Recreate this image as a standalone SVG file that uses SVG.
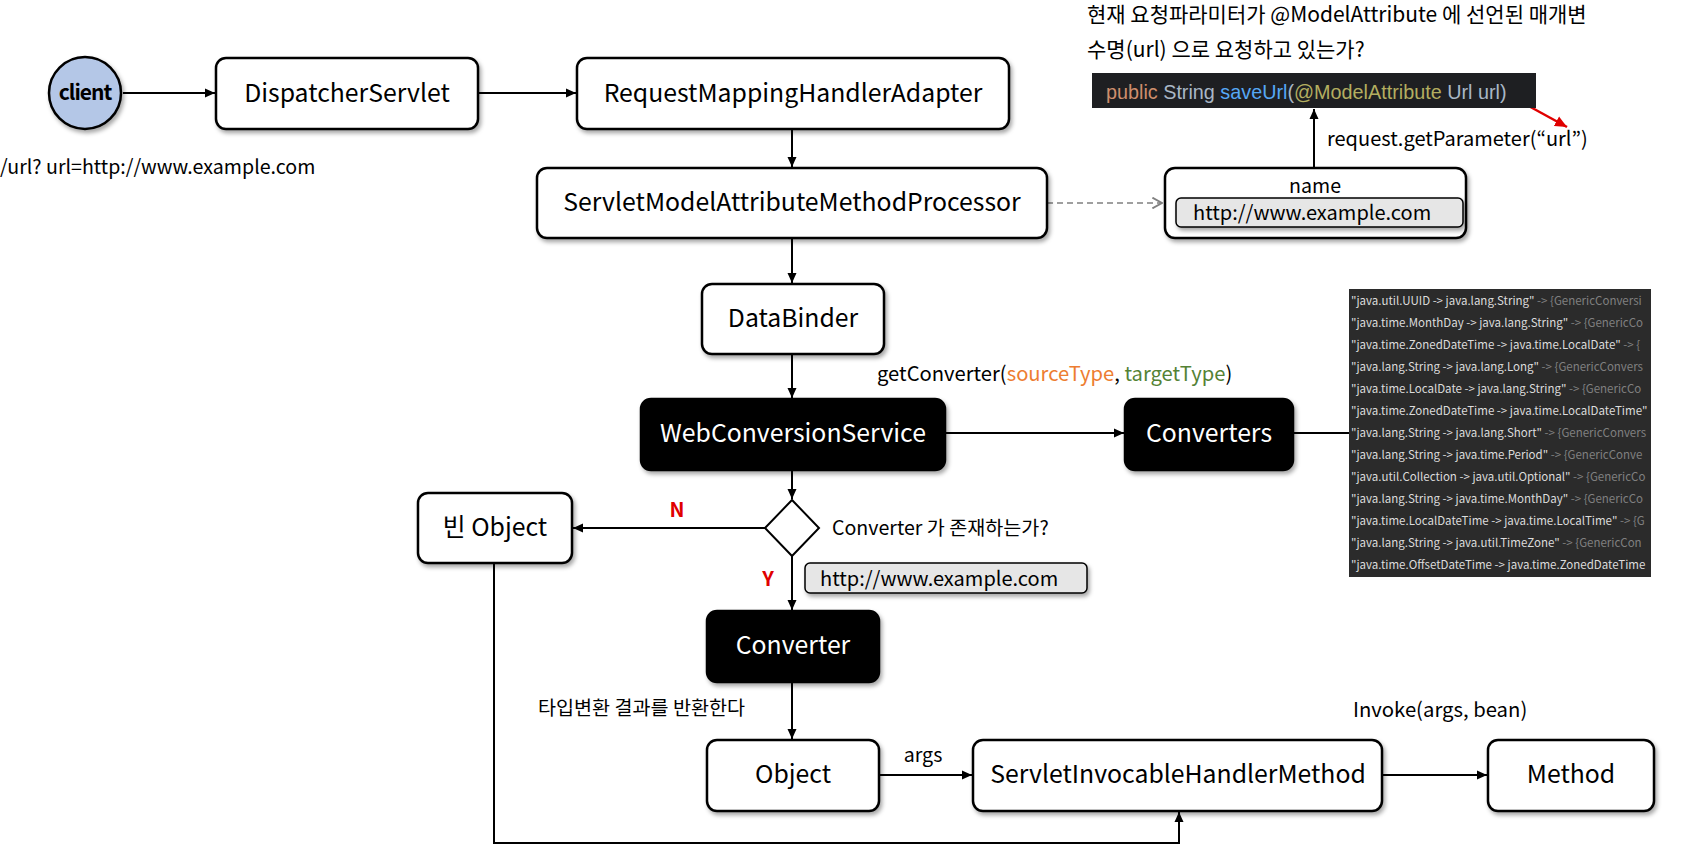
<svg xmlns="http://www.w3.org/2000/svg" width="1681" height="856" viewBox="0 0 1681 856">
<defs>
<style>
.box{fill:#fff;stroke:#000;stroke-width:2.5}
.dark{fill:#000;stroke:#000;stroke-width:2.5}
.lbl{font-family:"Noto Sans CJK KR","Noto Sans",sans-serif;font-size:24.8px;fill:#000;text-anchor:middle;dominant-baseline:central}
.wlbl{fill:#fff}
.note{font-family:"Noto Sans CJK KR","Noto Sans",sans-serif;font-size:19.6px;fill:#000}
.ko{font-size:21px}
.conn{fill:none;stroke:#000;stroke-width:2}
.list{font-family:"Noto Sans CJK KR","Noto Sans",sans-serif;font-size:11.5px;fill:#dcdcdc}
.g{fill:#808080}
</style>
<filter id="sh" x="-10%" y="-10%" width="130%" height="140%">
<feDropShadow dx="2" dy="3" stdDeviation="2" flood-color="#000" flood-opacity="0.35"/>
</filter>
<marker id="ah" viewBox="0 0 10 10" refX="10" refY="5" markerWidth="10" markerHeight="10" markerUnits="userSpaceOnUse" orient="auto">
<path d="M0,0.5 L10,5 L0,9.5 z" fill="#000"/>
</marker>
<marker id="ahr" viewBox="0 0 10 10" refX="10" refY="5" markerWidth="12" markerHeight="12" markerUnits="userSpaceOnUse" orient="auto">
<path d="M0,0.5 L10,5 L0,9.5 z" fill="#e00000"/>
</marker>
<marker id="ao" viewBox="0 0 10 10" refX="9" refY="5" markerWidth="12" markerHeight="12" markerUnits="userSpaceOnUse" orient="auto">
<path d="M1,0.5 L9,5 L1,9.5" fill="none" stroke="#808080" stroke-width="1.5"/>
</marker>
<clipPath id="clipList"><rect x="1349" y="289" width="302" height="288"/></clipPath>
</defs>
<rect width="1681" height="856" fill="#fff"/>

<g id="connectors">
<line class="conn" x1="123" y1="93" x2="215" y2="93" marker-end="url(#ah)"/>
<line class="conn" x1="478" y1="93" x2="576" y2="93" marker-end="url(#ah)"/>
<line class="conn" x1="792" y1="129" x2="792" y2="167" marker-end="url(#ah)"/>
<line x1="1047" y1="203" x2="1162" y2="203" stroke="#808080" stroke-width="1.5" stroke-dasharray="6 4" fill="none" marker-end="url(#ao)"/>
<line class="conn" x1="1314" y1="168" x2="1314" y2="109" marker-end="url(#ah)"/>
<line x1="1525" y1="104" x2="1567" y2="127" stroke="#e00000" stroke-width="2.5" marker-end="url(#ahr)"/>
<line class="conn" x1="792" y1="238" x2="792" y2="283" marker-end="url(#ah)"/>
<line class="conn" x1="792" y1="354" x2="792" y2="398" marker-end="url(#ah)"/>
<line class="conn" x1="945" y1="433" x2="1124" y2="433" marker-end="url(#ah)"/>
<line class="conn" x1="1293" y1="433" x2="1349" y2="433"/>
<line class="conn" x1="792" y1="470" x2="792" y2="499" marker-end="url(#ah)"/>
<line class="conn" x1="766" y1="528" x2="573" y2="528" marker-end="url(#ah)"/>
<line class="conn" x1="792" y1="556" x2="792" y2="610" marker-end="url(#ah)"/>
<line class="conn" x1="792" y1="682" x2="792" y2="739" marker-end="url(#ah)"/>
<line class="conn" x1="879" y1="775" x2="972" y2="775" marker-end="url(#ah)"/>
<line class="conn" x1="1382" y1="775" x2="1487" y2="775" marker-end="url(#ah)"/>
<polyline class="conn" points="494,563 494,843 1179,843 1179,812" marker-end="url(#ah)"/>
</g>

<g id="client">
<circle cx="85" cy="93" r="36" fill="#b4c7e7" stroke="#000" stroke-width="2.5" filter="url(#sh)"/>
<text x="85" y="91" class="lbl" style="font-size:21px;font-weight:bold;letter-spacing:-1px">client</text>
</g>
<text class="note" x="0" y="174">/url? url=http://www.example.com</text>

<g id="dispatcherServlet">
<rect class="box" x="216" y="58" width="262" height="71" rx="10" filter="url(#sh)"/>
<text class="lbl" x="347" y="91">DispatcherServlet</text>
</g>
<g id="requestMappingHandlerAdapter">
<rect class="box" x="577" y="58" width="432" height="71" rx="10" filter="url(#sh)"/>
<text class="lbl" x="793" y="91">RequestMappingHandlerAdapter</text>
</g>
<g id="servletModelAttributeMethodProcessor">
<rect class="box" x="537" y="168" width="510" height="70" rx="10" filter="url(#sh)"/>
<text class="lbl" x="792" y="200">ServletModelAttributeMethodProcessor</text>
</g>

<g id="question">
<text class="note ko" x="1087" y="22">현재 요청파라미터가 @ModelAttribute 에 선언된 매개변</text>
<text class="note ko" x="1087" y="57">수명(url) 으로 요청하고 있는가?</text>
</g>
<g id="codeBox">
<rect x="1092" y="73" width="444" height="35" fill="#1e1f22"/>
<text x="1106" y="99" style="font-family:'Liberation Sans',Arial,sans-serif;font-size:19.8px" fill="#a9b7c6"><tspan fill="#cf8e6d">public</tspan> String <tspan fill="#56a8f5">saveUrl</tspan>(<tspan fill="#b3ae60">@ModelAttribute</tspan> Url url)</text>
</g>
<text class="note" x="1327" y="146" style="font-size:20px">request.getParameter(“url”)</text>

<g id="nameBox">
<rect class="box" x="1165" y="168" width="301" height="70" rx="10" filter="url(#sh)"/>
<text class="note" x="1315" y="184" text-anchor="middle" dominant-baseline="central">name</text>
<rect x="1176" y="198" width="287" height="29" rx="5" fill="#e6e6e6" stroke="#000" stroke-width="1.5" filter="url(#sh)"/>
<text class="note" x="1193" y="211" dominant-baseline="central" style="font-size:20px">http://www.example.com</text>
</g>

<g id="dataBinder">
<rect class="box" x="702" y="284" width="182" height="70" rx="10" filter="url(#sh)"/>
<text class="lbl" x="793" y="316">DataBinder</text>
</g>
<text class="note" x="877" y="381" style="font-size:20.2px">getConverter(<tspan fill="#ed7d31">sourceType</tspan>, <tspan fill="#548235">targetType</tspan>)</text>

<g id="webConversionService">
<rect class="dark" x="641" y="399" width="304" height="71" rx="10" filter="url(#sh)"/>
<text class="lbl wlbl" x="793" y="431">WebConversionService</text>
</g>
<g id="converters">
<rect class="dark" x="1125" y="399" width="168" height="71" rx="10" filter="url(#sh)"/>
<text class="lbl wlbl" x="1209" y="431">Converters</text>
</g>

<g id="converterList">
<rect x="1349" y="289" width="302" height="288" fill="#2b2b2b"/>
<g clip-path="url(#clipList)" class="list">
<text x="1351" y="305">"java.util.UUID -&gt; java.lang.String" <tspan class="g">-&gt; {GenericConversi</tspan></text>
<text x="1351" y="327">"java.time.MonthDay -&gt; java.lang.String" <tspan class="g">-&gt; {GenericCo</tspan></text>
<text x="1351" y="349">"java.time.ZonedDateTime -&gt; java.time.LocalDate" <tspan class="g">-&gt; {</tspan></text>
<text x="1351" y="371">"java.lang.String -&gt; java.lang.Long" <tspan class="g">-&gt; {GenericConvers</tspan></text>
<text x="1351" y="393">"java.time.LocalDate -&gt; java.lang.String" <tspan class="g">-&gt; {GenericCo</tspan></text>
<text x="1351" y="415">"java.time.ZonedDateTime -&gt; java.time.LocalDateTime"</text>
<text x="1351" y="437">"java.lang.String -&gt; java.lang.Short" <tspan class="g">-&gt; {GenericConvers</tspan></text>
<text x="1351" y="459">"java.lang.String -&gt; java.time.Period" <tspan class="g">-&gt; {GenericConve</tspan></text>
<text x="1351" y="481">"java.util.Collection -&gt; java.util.Optional" <tspan class="g">-&gt; {GenericCo</tspan></text>
<text x="1351" y="503">"java.lang.String -&gt; java.time.MonthDay" <tspan class="g">-&gt; {GenericCo</tspan></text>
<text x="1351" y="525">"java.time.LocalDateTime -&gt; java.time.LocalTime" <tspan class="g">-&gt; {G</tspan></text>
<text x="1351" y="547">"java.lang.String -&gt; java.util.TimeZone" <tspan class="g">-&gt; {GenericCon</tspan></text>
<text x="1351" y="569">"java.time.OffsetDateTime -&gt; java.time.ZonedDateTime</text>
</g>
</g>

<g id="decision">
<polygon points="792,500 819,528 792,556 765,528" fill="#fff" stroke="#000" stroke-width="2"/>
<text class="note" x="832" y="526" dominant-baseline="central" style="font-size:19.6px">Converter 가 존재하는가?</text>
</g>
<text x="677" y="508" style="font-family:'Noto Sans CJK KR',sans-serif;font-size:20px;font-weight:bold" fill="#e00000" text-anchor="middle" dominant-baseline="central">N</text>
<text x="768" y="577" style="font-family:'Noto Sans CJK KR',sans-serif;font-size:20px;font-weight:bold" fill="#e00000" text-anchor="middle" dominant-baseline="central">Y</text>
<g id="valueBox">
<rect x="805" y="563" width="282" height="30" rx="5" fill="#e6e6e6" stroke="#000" stroke-width="1.5" filter="url(#sh)"/>
<text class="note" x="820" y="577" dominant-baseline="central" style="font-size:20px">http://www.example.com</text>
</g>

<g id="emptyObject">
<rect class="box" x="418" y="493" width="154" height="70" rx="10" filter="url(#sh)"/>
<text class="lbl" x="495" y="525">빈 Object</text>
</g>

<g id="converter">
<rect class="dark" x="707" y="611" width="172" height="71" rx="10" filter="url(#sh)"/>
<text class="lbl wlbl" x="793" y="643">Converter</text>
</g>
<text class="note" x="538" y="706" dominant-baseline="central" style="font-size:19.6px">타입변환 결과를 반환한다</text>

<g id="object">
<rect class="box" x="707" y="740" width="172" height="71" rx="10" filter="url(#sh)"/>
<text class="lbl" x="793" y="772">Object</text>
</g>
<text class="note" x="923" y="753" text-anchor="middle" dominant-baseline="central">args</text>

<g id="servletInvocableHandlerMethod">
<rect class="box" x="973" y="740" width="409" height="71" rx="10" filter="url(#sh)"/>
<text class="lbl" x="1178" y="772">ServletInvocableHandlerMethod</text>
</g>
<text class="note" x="1353" y="708" dominant-baseline="central" style="font-size:20.3px">Invoke(args, bean)</text>

<g id="method">
<rect class="box" x="1488" y="740" width="166" height="71" rx="10" filter="url(#sh)"/>
<text class="lbl" x="1571" y="772">Method</text>
</g>
</svg>
